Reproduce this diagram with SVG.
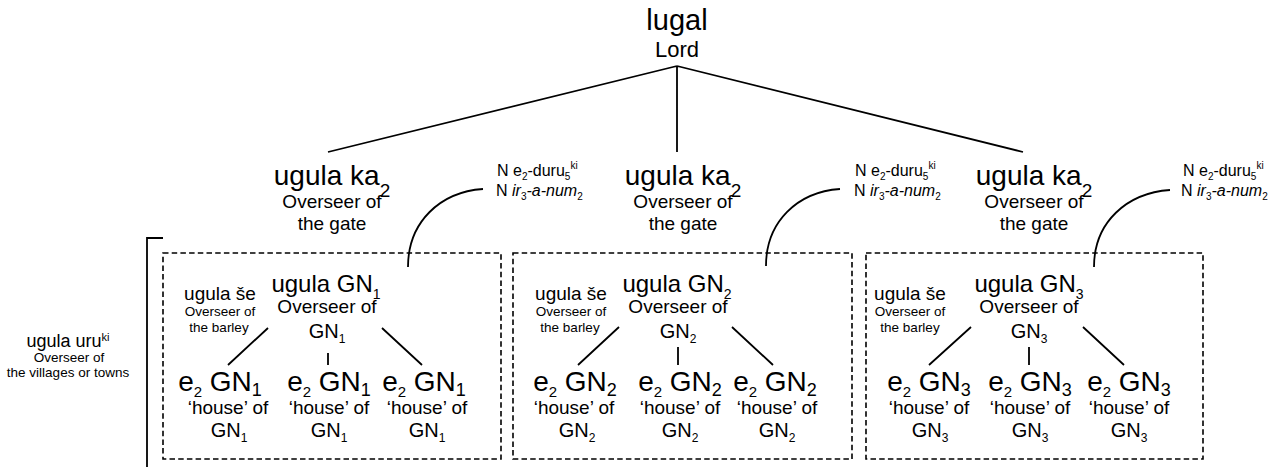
<svg xmlns="http://www.w3.org/2000/svg" width="1282" height="467" viewBox="0 0 1282 467">
<style>
text{font-family:"Liberation Sans",Arial,sans-serif;fill:#000;text-anchor:middle}
.t29{font-size:29px}
.t28{font-size:28px}
.t24{font-size:24px}
.t22{font-size:22px}
.t20{font-size:20px}
.t19{font-size:19px}
.t18{font-size:18px}
.t16{font-size:16px}
.t13{font-size:13.5px}
.lab{text-anchor:start;font-size:16px}
.ln{fill:none;stroke:#000;stroke-width:1.8}
.box{fill:none;stroke:#000;stroke-width:1.6;stroke-dasharray:5.5 3.2}
</style>
<rect width="1282" height="467" fill="#fff"/>

<g id="connectors">
<path class="ln" d="M677,66 L328,152 M677,66 L677,152 M677,66 L1023,152"/>
<path class="ln" d="M163,238 H147 V467"/>
<path class="ln" d="M483,189 C440,192 408,222 408,267"/>
<path class="ln" d="M840,189 C797,192 766,222 766,266"/>
<path class="ln" d="M1170,190 C1127,193 1094,222 1094,267"/>
<path class="ln" d="M268,328 L228,365 M328,353 L328,365 M382,328 L422,365"/>
<path class="ln" d="M619,327 L578,365 M678,347 L678,365 M732,327 L773,365"/>
<path class="ln" d="M971,327 L929,365 M1029,347 L1029,365 M1083,327 L1124,365"/>
</g>

<g id="lugal">
<text class="t29" x="677" y="30">lugal</text>
<text class="t22" x="677" y="57">Lord</text>
</g>

<g id="ka1">
<text class="t28" x="332" y="185">ugula ka<tspan dy="12" font-size="19">2</tspan></text>
<text class="t19" x="332" y="208">Overseer of</text>
<text class="t19" x="332" y="230">the gate</text>
</g>
<g id="ka2">
<text class="t28" x="683" y="185">ugula ka<tspan dy="12" font-size="19">2</tspan></text>
<text class="t19" x="683" y="208">Overseer of</text>
<text class="t19" x="683" y="230">the gate</text>
</g>
<g id="ka3">
<text class="t28" x="1034" y="185">ugula ka<tspan dy="12" font-size="19">2</tspan></text>
<text class="t19" x="1034" y="208">Overseer of</text>
<text class="t19" x="1034" y="230">the gate</text>
</g>

<g id="label1">
<text class="lab" x="497" y="176">N e<tspan dy="4" font-size="10">2</tspan><tspan dy="-4">-duru</tspan><tspan dy="4" font-size="10">5</tspan><tspan dy="-11" font-size="10">ki</tspan></text>
<text class="lab" x="496" y="196">N <tspan font-style="italic">ir</tspan><tspan dy="4" font-size="10">3</tspan><tspan dy="-4" font-style="italic">-a-num</tspan><tspan dy="4" font-size="10">2</tspan></text>
</g>
<g id="label2">
<text class="lab" x="855" y="176">N e<tspan dy="4" font-size="10">2</tspan><tspan dy="-4">-duru</tspan><tspan dy="4" font-size="10">5</tspan><tspan dy="-11" font-size="10">ki</tspan></text>
<text class="lab" x="854" y="196">N <tspan font-style="italic">ir</tspan><tspan dy="4" font-size="10">3</tspan><tspan dy="-4" font-style="italic">-a-num</tspan><tspan dy="4" font-size="10">2</tspan></text>
</g>
<g id="label3">
<text class="lab" x="1183" y="176">N e<tspan dy="4" font-size="10">2</tspan><tspan dy="-4">-duru</tspan><tspan dy="4" font-size="10">5</tspan><tspan dy="-11" font-size="10">ki</tspan></text>
<text class="lab" x="1181" y="196">N <tspan font-style="italic">ir</tspan><tspan dy="4" font-size="10">3</tspan><tspan dy="-4" font-style="italic">-a-num</tspan><tspan dy="4" font-size="10">2</tspan></text>
</g>

<g id="uru">
<text class="t18" x="68" y="347">ugula uru<tspan dy="-6" font-size="11">ki</tspan></text>
<text class="t13" x="69" y="362">Overseer of</text>
<text class="t13" x="68" y="377">the villages or towns</text>
</g>

<g id="box1">
<rect class="box" x="163" y="253" width="338" height="206"/>
<text class="t19" x="220" y="300">ugula še</text>
<text class="t13" x="220" y="316">Overseer of</text>
<text class="t13" x="219" y="332">the barley</text>
<text class="t24" x="326" y="292">ugula GN<tspan dy="7" font-size="14">1</tspan></text>
<text class="t19" x="327" y="313">Overseer of</text>
<text class="t20" x="327" y="338">GN<tspan dy="5" font-size="12">1</tspan></text>
<text class="t28" x="220" y="391">e<tspan dy="6" font-size="15">2</tspan><tspan dy="-6"> GN</tspan><tspan dy="5" font-size="18">1</tspan></text>
<text class="t19" x="228" y="414">‘house’ of</text>
<text class="t20" x="229" y="437">GN<tspan dy="5" font-size="12">1</tspan></text>
<text class="t28" x="329" y="391">e<tspan dy="6" font-size="15">2</tspan><tspan dy="-6"> GN</tspan><tspan dy="5" font-size="18">1</tspan></text>
<text class="t19" x="329" y="414">‘house’ of</text>
<text class="t20" x="329" y="437">GN<tspan dy="5" font-size="12">1</tspan></text>
<text class="t28" x="424" y="391">e<tspan dy="6" font-size="15">2</tspan><tspan dy="-6"> GN</tspan><tspan dy="5" font-size="18">1</tspan></text>
<text class="t19" x="427" y="414">‘house’ of</text>
<text class="t20" x="427" y="437">GN<tspan dy="5" font-size="12">1</tspan></text>
</g>

<g id="box2">
<rect class="box" x="513" y="253" width="339" height="206"/>
<text class="t19" x="571" y="300">ugula še</text>
<text class="t13" x="571" y="316">Overseer of</text>
<text class="t13" x="570" y="332">the barley</text>
<text class="t24" x="677" y="292">ugula GN<tspan dy="7" font-size="14">2</tspan></text>
<text class="t19" x="678" y="313">Overseer of</text>
<text class="t20" x="678" y="338">GN<tspan dy="5" font-size="12">2</tspan></text>
<text class="t28" x="575" y="391">e<tspan dy="6" font-size="15">2</tspan><tspan dy="-6"> GN</tspan><tspan dy="5" font-size="18">2</tspan></text>
<text class="t19" x="574" y="414">‘house’ of</text>
<text class="t20" x="577" y="437">GN<tspan dy="5" font-size="12">2</tspan></text>
<text class="t28" x="680" y="391">e<tspan dy="6" font-size="15">2</tspan><tspan dy="-6"> GN</tspan><tspan dy="5" font-size="18">2</tspan></text>
<text class="t19" x="680" y="414">‘house’ of</text>
<text class="t20" x="680" y="437">GN<tspan dy="5" font-size="12">2</tspan></text>
<text class="t28" x="775" y="391">e<tspan dy="6" font-size="15">2</tspan><tspan dy="-6"> GN</tspan><tspan dy="5" font-size="18">2</tspan></text>
<text class="t19" x="777" y="414">‘house’ of</text>
<text class="t20" x="777" y="437">GN<tspan dy="5" font-size="12">2</tspan></text>
</g>

<g id="box3">
<rect class="box" x="866" y="253" width="337" height="206"/>
<text class="t19" x="910" y="300">ugula še</text>
<text class="t13" x="910" y="316">Overseer of</text>
<text class="t13" x="910" y="332">the barley</text>
<text class="t24" x="1029" y="292">ugula GN<tspan dy="7" font-size="14">3</tspan></text>
<text class="t19" x="1029" y="313">Overseer of</text>
<text class="t20" x="1029" y="338">GN<tspan dy="5" font-size="12">3</tspan></text>
<text class="t28" x="929" y="391">e<tspan dy="6" font-size="15">2</tspan><tspan dy="-6"> GN</tspan><tspan dy="5" font-size="18">3</tspan></text>
<text class="t19" x="929" y="414">‘house’ of</text>
<text class="t20" x="930" y="437">GN<tspan dy="5" font-size="12">3</tspan></text>
<text class="t28" x="1030" y="391">e<tspan dy="6" font-size="15">2</tspan><tspan dy="-6"> GN</tspan><tspan dy="5" font-size="18">3</tspan></text>
<text class="t19" x="1030" y="414">‘house’ of</text>
<text class="t20" x="1030" y="437">GN<tspan dy="5" font-size="12">3</tspan></text>
<text class="t28" x="1129" y="391">e<tspan dy="6" font-size="15">2</tspan><tspan dy="-6"> GN</tspan><tspan dy="5" font-size="18">3</tspan></text>
<text class="t19" x="1129" y="414">‘house’ of</text>
<text class="t20" x="1129" y="437">GN<tspan dy="5" font-size="12">3</tspan></text>
</g>
</svg>
